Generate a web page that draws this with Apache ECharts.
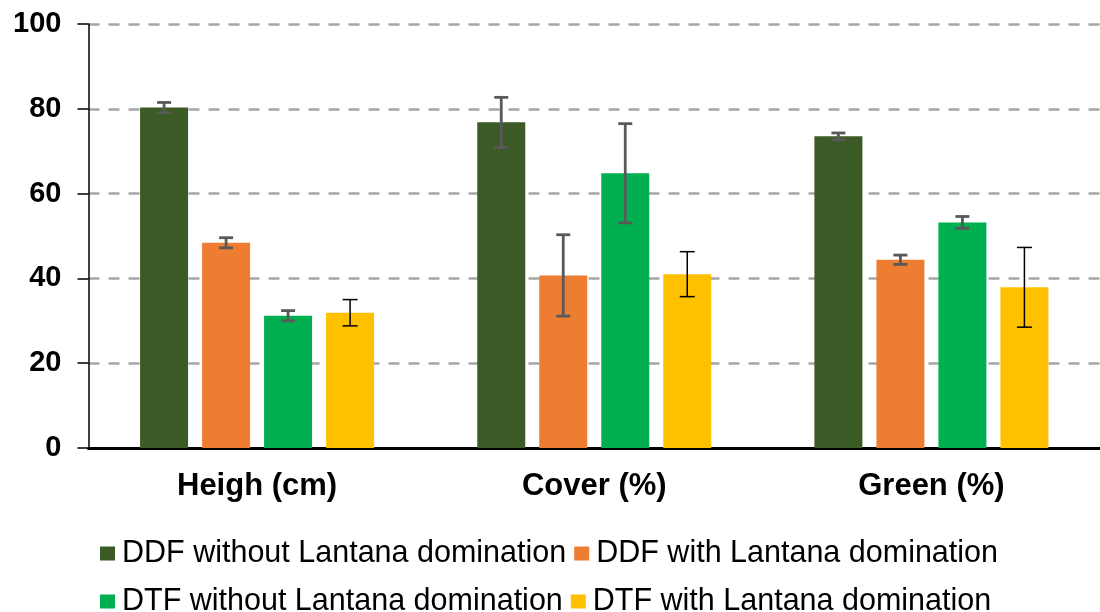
<!DOCTYPE html>
<html>
<head>
<meta charset="utf-8">
<script src="https://cdn.jsdelivr.net/npm/echarts@6/dist/echarts.min.js"></script>
<style>
  html, body { margin: 0; padding: 0; background: #fff; }
  #main { width: 1100px; height: 612px; }
</style>
</head>
<body>
<div id="main"></div>
<script>
// data
var categories = ['Heigh (cm)', 'Cover (%)', 'Green (%)'];
var seriesNames = [
  'DDF without Lantana domination',
  'DDF with Lantana domination',
  'DTF without Lantana domination',
  'DTF with Lantana domination'
];
var ddfWithout = [80.3, 76.8, 73.5];
var ddfWith = [48.4, 40.7, 44.4];
var dtfWithout = [31.2, 64.8, 53.2];
var dtfWith = [31.9, 41.0, 37.9];
var errDdfWithout = [1.2, 5.9, 0.8];
var errDdfWith = [1.2, 9.6, 1.1];
var errDtfWithout = [1.2, 11.7, 1.4];
var errDtfWith = [3.1, 5.3, 9.4];
var yTicks = [0, 20, 40, 60, 80, 100];

var colors = ['#3C5A25', '#ED7D31', '#00B050', '#FFC000'];
var errColors = ['#595959', '#595959', '#595959', '#000000'];
var errWidths = [2.8, 2.8, 2.8, 1.5];

var values = [ddfWithout, ddfWith, dtfWithout, dtfWith];
var errors = [errDdfWithout, errDdfWith, errDtfWithout, errDtfWith];

var barW = 48, barGapPx = 14;
var font = 'Liberation Sans, Arial, sans-serif';

var myChart = echarts.init(document.getElementById('main'));

var series = [];
values.forEach(function (vals, i) {
  series.push({
    name: seriesNames[i],
    type: 'bar',
    barWidth: barW,
    barGap: (barGapPx / barW * 100) + '%',
    itemStyle: { color: colors[i] },
    data: vals
  });
});

// error bars, one custom series per bar series
values.forEach(function (vals, i) {
  var offset = (i - 1.5) * (barW + barGapPx);
  series.push({
    type: 'custom',
    name: seriesNames[i] + ' err',
    z: 10,
    silent: true,
    encode: { x: 0, y: [1, 2] },
    data: vals.map(function (v, k) {
      return [k, v - errors[i][k], v + errors[i][k]];
    }),
    renderItem: function (params, api) {
      var lo = api.coord([api.value(0), api.value(1)]);
      var hi = api.coord([api.value(0), api.value(2)]);
      var x = lo[0] + offset;
      var hw = i === 3 ? 7.5 : 7;
      var st = { stroke: errColors[i], lineWidth: errWidths[i] };
      return {
        type: 'group',
        children: [
          { type: 'line', shape: { x1: x, y1: hi[1], x2: x, y2: lo[1] }, style: st },
          { type: 'line', shape: { x1: x - hw, y1: hi[1], x2: x + hw, y2: hi[1] }, style: st },
          { type: 'line', shape: { x1: x - hw, y1: lo[1], x2: x + hw, y2: lo[1] }, style: st }
        ]
      };
    }
  });
});

var legendText = { fontFamily: font, fontSize: 30.5, color: '#000', padding: [0, 0, 0, 2] };

var option = {
  animation: false,
  backgroundColor: '#fff',
  grid: { left: 88.5, right: -5, top: 24, bottom: 164 },
  legend: [
    {
      data: [seriesNames[0], seriesNames[1]],
      left: 95, top: 533,
      itemWidth: 15, itemHeight: 14, itemGap: 8,
      icon: 'rect',
      textStyle: legendText
    },
    {
      data: [seriesNames[2], seriesNames[3]],
      left: 95, top: 581,
      itemWidth: 15, itemHeight: 14, itemGap: 8,
      icon: 'rect',
      textStyle: legendText
    }
  ],
  xAxis: {
    type: 'category',
    data: categories,
    axisTick: { show: false },
    axisLine: { lineStyle: { color: '#000', width: 3 } },
    axisLabel: {
      margin: 23,
      color: '#000',
      fontFamily: font,
      fontSize: 31,
      fontWeight: 'bold'
    }
  },
  yAxis: {
    type: 'value',
    min: yTicks[0],
    max: yTicks[yTicks.length - 1],
    interval: 20,
    axisLine: { show: true, lineStyle: { color: '#000', width: 1.5 } },
    axisTick: { show: true, length: 11, lineStyle: { color: '#000', width: 1.5 } },
    axisLabel: {
      margin: 27,
      color: '#000',
      fontFamily: font,
      fontSize: 29,
      fontWeight: 'bold'
    },
    splitLine: {
      lineStyle: { color: '#A6A6A6', width: 2.5, type: [11, 9] }
    }
  },
  series: series
};

myChart.setOption(option);
</script>
</body>
</html>
